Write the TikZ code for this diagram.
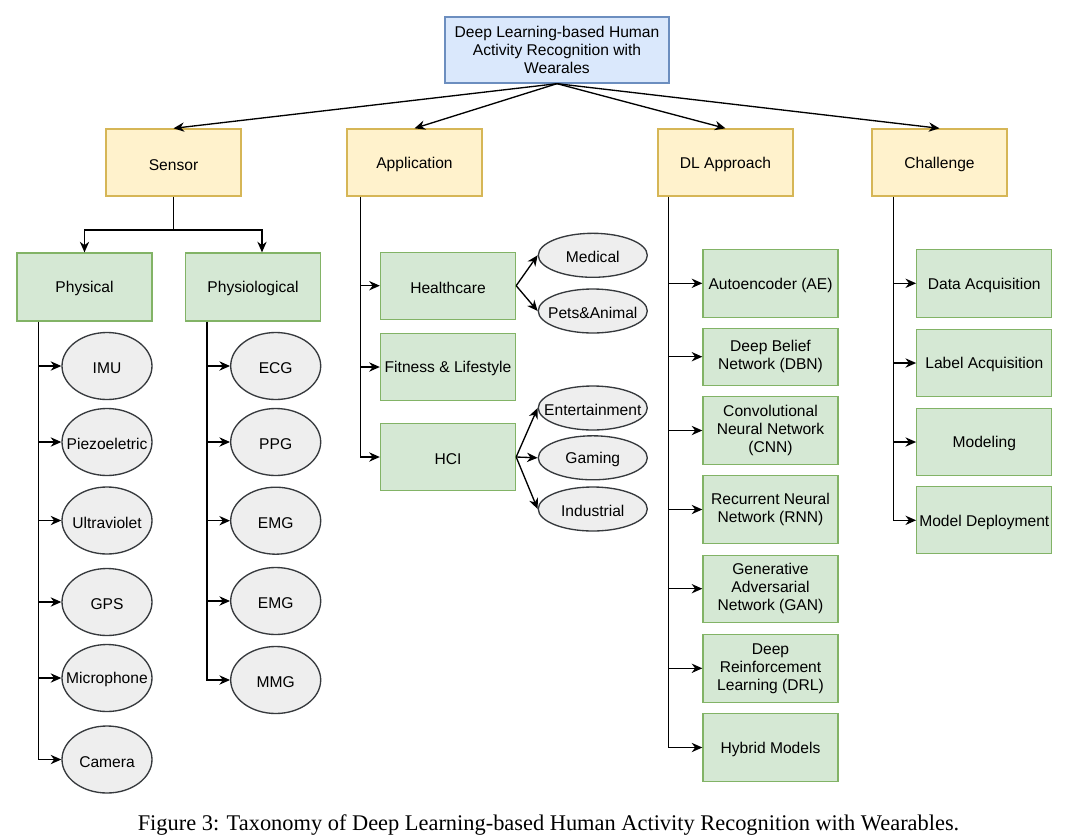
\documentclass[tikz,border=0pt]{standalone}
\usepackage{fontspec}
\setmainfont{Liberation Sans}
\newfontfamily\capfont{Liberation Serif}
\usetikzlibrary{arrows.meta,shapes.geometric}
\definecolor{bluef}{HTML}{DAE8FC}
\definecolor{blued}{HTML}{6C8EBF}
\definecolor{yelf}{HTML}{FFF2CC}
\definecolor{yeld}{HTML}{D6B656}
\definecolor{grnf}{HTML}{D5E8D4}
\definecolor{grnd}{HTML}{82B366}
\definecolor{gryf}{HTML}{EEEEEE}
\definecolor{gryd}{HTML}{36393D}
\newcommand\zt[1]{\makebox[0pt]{#1}}
\tikzset{
  base/.style={inner sep=0pt, align=center, line width=1pt, font=\fontsize{11.7pt}{13.5pt}\selectfont,
    execute at begin node={\rule{0pt}{11.4pt}}},
  rootbox/.style={base, rectangle, fill=bluef, draw=blued, minimum width=168pt, minimum height=49.5pt},
  catbox/.style={base, rectangle, fill=yelf, draw=yeld, minimum width=101.25pt, minimum height=50.25pt},
  subbox/.style={base, rectangle, fill=grnf, draw=grnd, minimum width=101.25pt, minimum height=51pt},
  ellnode/.style={base, ellipse, fill=gryf, draw=gryd, minimum width=67.5pt, minimum height=50.25pt},
  appell/.style={base, ellipse, fill=gryf, draw=gryd, minimum width=81.75pt, minimum height=33pt},
  link/.style={line width=1pt},
  arr/.style={line width=1pt, -{Stealth[length=8pt,width=7pt,inset=2.6pt]}}
}
\begin{document}
\begin{tikzpicture}[x=0.75pt,y=-0.75pt]
\useasboundingbox[fill=white] (0,0) rectangle (1086,836);

% root and categories
\node[rootbox] (root) at (557,50) {Deep Learning-based Human\\Activity Recognition with\\Wearales};
\node[catbox] (sensor) at (173.5,162.5) {Sensor};
\node[catbox] (app) at (414.5,162.5) {Application};
\node[catbox] (dl) at (725.5,162.5) {DL Approach};
\node[catbox] (chal) at (939.5,162.5) {Challenge};

\draw[arr] (root.south) -- (sensor.north);
\draw[arr] (root.south) -- (app.north);
\draw[arr] (root.south) -- (dl.north);
\draw[arr] (root.south) -- (chal.north);

% sensor subtree
\node[subbox] (phys) at (84.5,287) {Physical};
\node[subbox] (physio) at (253,287) {Physiological};
\coordinate (sj) at (173.5,230);
\draw[link] (sensor.south) -- (sj);
\draw[arr] (sj) -| (phys.north);
\draw[arr] (sj) -| ([xshift=6.75pt]physio.north);

\node[ellnode] (imu) at (107,366) {\zt{IMU}};
\node[ellnode] (piezo) at (107,442) {\zt{Piezoeletric}};
\node[ellnode] (uv) at (107,520.5) {\zt{Ultraviolet}};
\node[ellnode] (gps) at (107,602) {\zt{GPS}};
\node[ellnode] (mic) at (107,678) {\zt{Microphone}};
\node[ellnode] (cam) at (107,759.5) {\zt{Camera}};
\coordinate (tphys) at ([xshift=16.5pt]phys.south west);
\draw[arr] (tphys) |- (cam.west);
\foreach \n in {imu,piezo,uv,gps,mic}
  \draw[arr] (tphys |- \n.west) -- (\n.west);

\node[ellnode] (ecg) at (275.7,366) {\zt{ECG}};
\node[ellnode] (ppg) at (275.7,442) {\zt{PPG}};
\node[ellnode] (emga) at (275.7,520.7) {\zt{EMG}};
\node[ellnode] (emgb) at (275.7,601) {\zt{EMG}};
\node[ellnode] (mmg) at (275.7,680) {\zt{MMG}};
\coordinate (tphysio) at ([xshift=16.5pt]physio.south west);
\draw[arr] (tphysio) |- (mmg.west);
\foreach \n in {ecg,ppg,emga,emgb}
  \draw[arr] (tphysio |- \n.west) -- (\n.west);

% application subtree
\node[subbox, minimum height=50.25pt] (hc) at (448,285.7) {Healthcare};
\node[subbox, minimum height=50.25pt] (fit) at (448,367) {Fitness \& Lifestyle};
\node[subbox, minimum height=50.25pt] (hci) at (448,457) {HCI};
\coordinate (tapp) at ([xshift=10.5pt]app.south west);
\draw[arr] (tapp) |- (hci.west);
\foreach \n in {hc,fit}
  \draw[arr] (tapp |- \n.west) -- (\n.west);

\node[appell] (med) at (592.8,255.3) {\zt{Medical}};
\node[appell] (pet) at (592.8,311) {\zt{Pets\&Animal}};
\node[appell] (ent) at (592.8,408) {\zt{Entertainment}};
\node[appell] (gam) at (592.8,457.8) {\zt{Gaming}};
\node[appell] (ind) at (592.8,509) {\zt{Industrial}};
\draw[arr] (hc.east) -- (med.west);
\draw[arr] (hc.east) -- (pet.west);
\draw[arr] (hci.east) -- (ent.west);
\draw[arr] (hci.east) -- (gam.west);
\draw[arr] (hci.east) -- (ind.west);

% DL approach subtree
\node[subbox] (ae) at (770.5,283.3) {Autoencoder (AE)};
\node[subbox, minimum height=42.75pt] (dbn) at (770.5,356.7) {Deep Belief\\Network (DBN)};
\node[subbox] (cnn) at (770.5,430.5) {Convolutional\\Neural Network\\(CNN)};
\node[subbox] (rnn) at (770.5,509.5) {Recurrent Neural\\Network (RNN)};
\node[subbox, minimum height=50.25pt] (gan) at (770.5,588.7) {Generative\\Adversarial\\Network (GAN)};
\node[subbox] (drl) at (770.5,668.3) {Deep\\Reinforcement\\Learning (DRL)};
\node[subbox] (hyb) at (770.5,747.5) {Hybrid Models};
\coordinate (tdl) at ([xshift=8.25pt]dl.south west);
\draw[arr] (tdl) |- (hyb.west);
\foreach \n in {ae,dbn,cnn,rnn,gan,drl}
  \draw[arr] (tdl |- \n.west) -- (\n.west);

% challenge subtree
\node[subbox] (da) at (984.3,283.3) {Data Acquisition};
\node[subbox, minimum height=50.25pt] (la) at (984.3,363) {Label Acquisition};
\node[subbox, minimum height=50.25pt] (mo) at (984.3,442) {Modeling};
\node[subbox, minimum height=50.25pt] (md) at (984.3,520.3) {Model Deployment};
\coordinate (tchal) at ([xshift=16.5pt]chal.south west);
\draw[arr] (tchal) |- (md.west);
\foreach \n in {da,la,mo}
  \draw[arr] (tchal |- \n.west) -- (\n.west);

% caption
\node[anchor=base, inner sep=0pt, font=\capfont\fontsize{16.8pt}{20pt}\selectfont] (cap) at (548.5,830)
  {Figure 3: Taxonomy of Deep Learning-based Human Activity Recognition with Wearables.};
\end{tikzpicture}
\end{document}
